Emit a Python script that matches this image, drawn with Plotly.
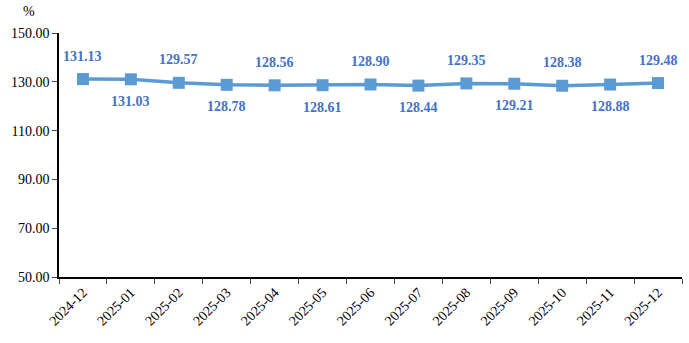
import plotly.graph_objects as go

months = ["2024-12", "2025-01", "2025-02", "2025-03", "2025-04", "2025-05", "2025-06",
          "2025-07", "2025-08", "2025-09", "2025-10", "2025-11", "2025-12"]
values = [131.13, 131.03, 129.57, 128.78, 128.56, 128.61, 128.90,
          128.44, 129.35, 129.21, 128.38, 128.88, 129.48]
y_ticks = [50, 70, 90, 110, 130, 150]

SERIF = "Liberation Serif, Times New Roman, serif"

fig = go.Figure()
fig.add_trace(go.Scatter(
    x=months, y=values, mode="lines+markers",
    line=dict(color="#5B9BD5", width=3.5),
    marker=dict(symbol="square", size=12, color="#5B9BD5"),
    hoverinfo="skip", showlegend=False,
))
for i, (m, v) in enumerate(zip(months, values)):
    fig.add_annotation(
        x=m, y=v, text=f"<b>{v:.2f}</b>", showarrow=False,
        yshift=23 if i % 2 == 0 else -22,
        font=dict(family=SERIF, size=14, color="#4472C4"),
    )

fig.add_annotation(
    xref="paper", yref="paper", x=-0.048, y=1.05, xanchor="center", yanchor="bottom",
    text="%", showarrow=False,
    font=dict(family=SERIF, size=14, color="#000000"),
)

fig.update_layout(
    width=689, height=343,
    margin=dict(l=59, r=7, t=33, b=66),
    plot_bgcolor="white", paper_bgcolor="white",
    font=dict(family=SERIF, size=14, color="#000000"),
)
fig.update_xaxes(
    type="category", range=[-0.5, 12.5], tickson="boundaries", ticks="outside", ticklen=5,
    tickangle=-45, showline=True, linecolor="black", linewidth=1.5,
    showgrid=False, tickfont=dict(family=SERIF, size=14),
)
fig.update_yaxes(
    range=[50, 150], tickvals=y_ticks, ticktext=[f"{t:.2f}" for t in y_ticks],
    ticks="outside", ticklen=5, showline=True, linecolor="black", linewidth=1.5,
    showgrid=False, zeroline=False, tickfont=dict(family=SERIF, size=14),
)
fig.write_html("out.html")
